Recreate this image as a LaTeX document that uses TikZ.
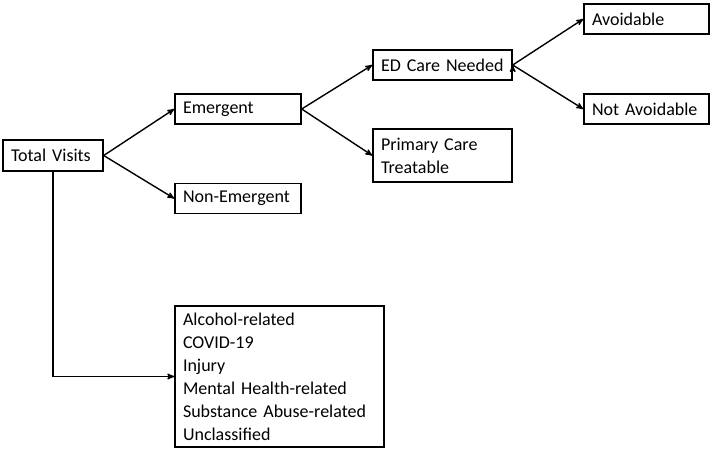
\documentclass[tikz,border=0pt]{standalone}
\usepackage{fontspec}
\setmainfont{Carlito}
\usetikzlibrary{arrows, positioning}
\tikzset{
->, % makes the edges directed
>=stealth', % makes the arrow heads bold
every node/.style={font=\fontsize{18}{23}\selectfont}, % sets the text size
box/.style={draw, rectangle, align=left, inner xsep=8pt, inner ysep=0pt}, % sets the properties for each box
}
\begin{document}
\begin{tikzpicture}[x=1pt, y=-1pt, line width=1.4pt]
      \useasboundingbox (0,0) rectangle (714,453);
      \node[box, text width=84pt, minimum height=31pt] (total) at (53,155.5) {Total Visits};
      \node[box, text width=110pt, minimum height=30pt] (emer) at (238,109) {Emergent};
      \node[box, text width=110pt, minimum height=30pt] (nonemer) at (238,198.5) {Non-Emergent};
      \node[box, text width=123pt, minimum height=30pt] (ed) at (442.5,65) {ED Care Needed};
      \node[box, text width=123pt, minimum height=53pt] (pc) at (442.5,155.5) {Primary Care\\Treatable};
      \node[box, text width=109pt, minimum height=30pt] (avoid) at (646.5,19) {Avoidable};
      \node[box, text width=109pt, minimum height=30pt] (notavoid) at (646.5,109) {Not Avoidable};
      \node[box, text width=193pt, minimum height=141pt] (other) at (279.5,376.5) {Alcohol-related\\COVID-19\\Injury\\Mental Health-related\\Substance Abuse-related\\Unclassified};

      \draw (total.east) edge node{} (emer.west)
      (total.east) edge node{} (nonemer.west)
      (emer.east) edge node{} (ed.west)
      (emer.east) edge node{} (pc.west)
      (ed.east) edge node{} (avoid.west)
      (ed.east) edge node{} (notavoid.west);
      \draw (total.south) |- (other.west);
    \end{tikzpicture}
\end{document}
